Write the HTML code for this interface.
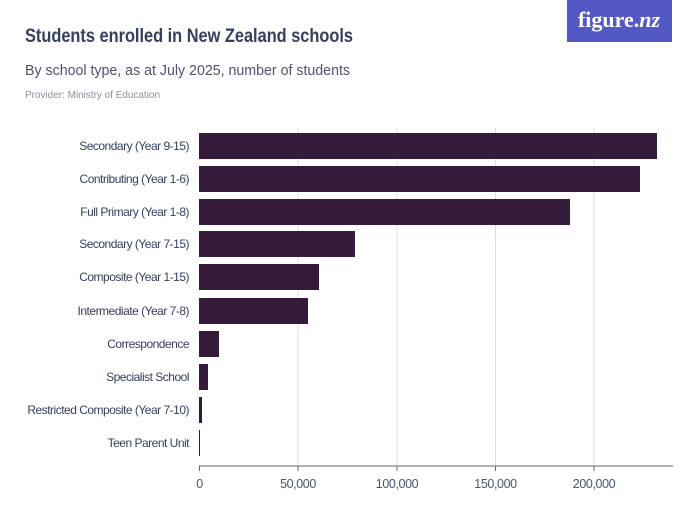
<!DOCTYPE html>
<html><head><style>
body{margin:0;background:#fff;width:700px;height:525px;overflow:hidden;font-family:"Liberation Sans",sans-serif}
</style></head><body>
<svg width="700" height="525" xmlns="http://www.w3.org/2000/svg" font-family="Liberation Sans, sans-serif">
<rect x="567" y="0" width="105" height="42" fill="#5458c4"/>
<text x="619" y="27" text-anchor="middle" font-family="Liberation Serif, serif" font-weight="bold" font-size="22" fill="#fff">figure.<tspan font-style="italic">nz</tspan></text>
<text x="25" y="42" font-size="19" font-weight="bold" fill="#34405e" textLength="328" lengthAdjust="spacingAndGlyphs">Students enrolled in New Zealand schools</text>
<text x="25" y="75" font-size="15" fill="#4a5570" textLength="325" lengthAdjust="spacingAndGlyphs">By school type, as at July 2025, number of students</text>
<text x="25" y="98" font-size="10.5" fill="#8a8f9c" textLength="135" lengthAdjust="spacingAndGlyphs">Provider: Ministry of Education</text>
<g stroke="#ddd" stroke-width="1">
<line x1="298" y1="128" x2="298" y2="466"/><line x1="397" y1="128" x2="397" y2="466"/>
<line x1="495.5" y1="128" x2="495.5" y2="466"/><line x1="594" y1="128" x2="594" y2="466"/>
</g>
<g fill="#341b3a">
<rect x="199" y="133" width="458" height="26"/>
<rect x="199" y="166" width="441" height="26"/>
<rect x="199" y="199" width="371" height="26"/>
<rect x="199" y="231" width="156" height="26"/>
<rect x="199" y="264" width="120" height="26"/>
<rect x="199" y="298" width="109" height="26"/>
<rect x="199" y="331" width="20" height="26"/>
<rect x="199" y="364" width="9" height="26"/>
<rect x="199" y="397" width="3" height="26"/>
<rect x="199" y="430" width="1" height="26"/>
</g>
<line x1="199" y1="466" x2="673" y2="466" stroke="#666" stroke-width="1"/>
<g stroke="#666"><line x1="199.5" y1="466" x2="199.5" y2="471"/><line x1="298" y1="466" x2="298" y2="471"/><line x1="397" y1="466" x2="397" y2="471"/><line x1="495.5" y1="466" x2="495.5" y2="471"/><line x1="594" y1="466" x2="594" y2="471"/></g>
<g font-size="12.5" fill="#4a5570" text-anchor="middle" letter-spacing="-0.4">
<text x="199.5" y="488">0</text><text x="298" y="488">50,000</text><text x="397" y="488">100,000</text><text x="495.5" y="488">150,000</text><text x="594" y="488">200,000</text>
</g>
<g font-size="12" fill="#34405e" text-anchor="end" letter-spacing="-0.5">
<text x="189" y="150">Secondary (Year 9-15)</text>
<text x="189" y="183">Contributing (Year 1-6)</text>
<text x="189" y="216">Full Primary (Year 1-8)</text>
<text x="189" y="248">Secondary (Year 7-15)</text>
<text x="189" y="281">Composite (Year 1-15)</text>
<text x="189" y="315">Intermediate (Year 7-8)</text>
<text x="189" y="348">Correspondence</text>
<text x="189" y="381">Specialist School</text>
<text x="189" y="414">Restricted Composite (Year 7-10)</text>
<text x="189" y="447">Teen Parent Unit</text>
</g>
</svg>
</body></html>
